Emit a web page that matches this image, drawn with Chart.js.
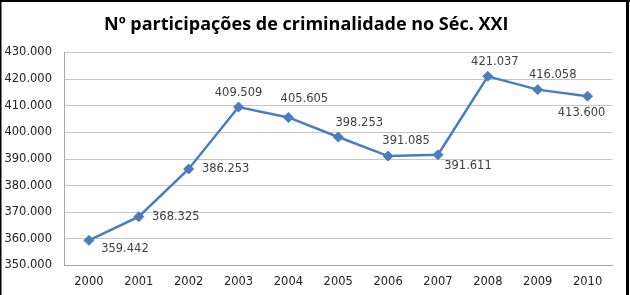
<!DOCTYPE html>
<html>
<head>
<meta charset="utf-8">
<script src="https://cdn.jsdelivr.net/npm/chart.js@4/dist/chart.umd.min.js"></script>
<style>
  html, body { margin: 0; padding: 0; background: #fff; }
  #wrap { width: 630px; height: 295px; position: relative; }
</style>
</head>
<body>
<div id="wrap"><canvas id="chart" width="630" height="295"></canvas></div>
<script>
  // --- data ---
  const years = ['2000', '2001', '2002', '2003', '2004', '2005', '2006', '2007', '2008', '2009', '2010'];
  const participacoes = [359442, 368325, 386253, 409509, 405605, 398253, 391085, 391611, 421037, 416058, 413600];
  const yTicks = { min: 350000, max: 430000, step: 10000 };

  // label offsets from each point (style only), as placed in the original
  const labelOffsets = [[36, 9], [37, 0], [37, 0], [0, -14], [16, -18], [21, -14], [18, -15], [30, 11], [7, -14], [15, -15], [-6, 17]];

  const textFont = '"DejaVu Sans", sans-serif';

  // thousands with a dot, e.g. 359.442
  function fmt(v) {
    return String(v).replace(/\B(?=(\d{3})+(?!\d))/g, '.');
  }

  const pointLabels = {
    id: 'pointLabels',
    afterDatasetsDraw(chart) {
      const ctx = chart.ctx;
      const meta = chart.getDatasetMeta(0);
      ctx.save();
      ctx.font = '11.5px ' + textFont;
      ctx.fillStyle = '#404040';
      ctx.textAlign = 'center';
      ctx.textBaseline = 'middle';
      meta.data.forEach((pt, i) => {
        const off = labelOffsets[i] || [0, -14];
        ctx.fillText(fmt(participacoes[i]), pt.x + off[0], pt.y + off[1]);
      });
      ctx.restore();
    }
  };

  const frame = {
    id: 'frame',
    beforeDraw(chart) {
      const ctx = chart.ctx;
      ctx.save();
      ctx.fillStyle = '#fff';
      ctx.fillRect(0, 0, chart.width, chart.height);
      ctx.restore();
    },
    afterDraw(chart) {
      const ctx = chart.ctx;
      ctx.save();
      ctx.fillStyle = '#000';
      ctx.fillRect(0, 0, chart.width, 2);    // top
      ctx.fillRect(0, 0, 1.5, chart.height); // left
      ctx.fillRect(626, 0, 3, chart.height); // right
      ctx.restore();
    }
  };

  new Chart(document.getElementById('chart').getContext('2d'), {
    type: 'line',
    data: {
      labels: years,
      datasets: [{
        label: 'Nº participações',
        data: participacoes,
        borderColor: '#4a7ebb',
        backgroundColor: '#4a7ebb',
        borderWidth: 2.5,
        pointStyle: 'rectRot',
        pointRadius: 5,
        pointBorderWidth: 1,
        tension: 0,
        fill: false
      }]
    },
    options: {
      responsive: false,
      animation: false,
      layout: { padding: { left: 0, right: 17.5, top: 0, bottom: 0 } },
      plugins: {
        legend: { display: false },
        tooltip: { enabled: false },
        title: {
          display: true,
          text: 'Nº participações de criminalidade no Séc. XXI',
          color: '#000',
          font: { family: '"Open Sans", sans-serif', size: 18, weight: 'bold', lineHeight: 1.2 },
          padding: { top: 14.5, bottom: 16.4 }
        }
      },
      scales: {
        x: {
          offset: true,
          grid: { display: false, drawTicks: false },
          border: { display: true, color: '#a6a6a6', width: 1 },
          ticks: { color: '#222', font: { family: textFont, size: 11.5 }, padding: 9.5, maxRotation: 0 },
          afterFit(scale) { scale.height = 29.5; }
        },
        y: {
          min: yTicks.min,
          max: yTicks.max,
          grid: { color: '#c4c4c4', lineWidth: 1, drawTicks: false },
          border: { display: true, color: '#a6a6a6', width: 1 },
          ticks: {
            stepSize: yTicks.step,
            color: '#222',
            padding: 12,
            font: { family: textFont, size: 11.5 },
            callback: v => fmt(v)
          },
          afterFit(scale) { scale.width = 64; }
        }
      }
    },
    plugins: [pointLabels, frame]
  });
</script>
</body>
</html>
